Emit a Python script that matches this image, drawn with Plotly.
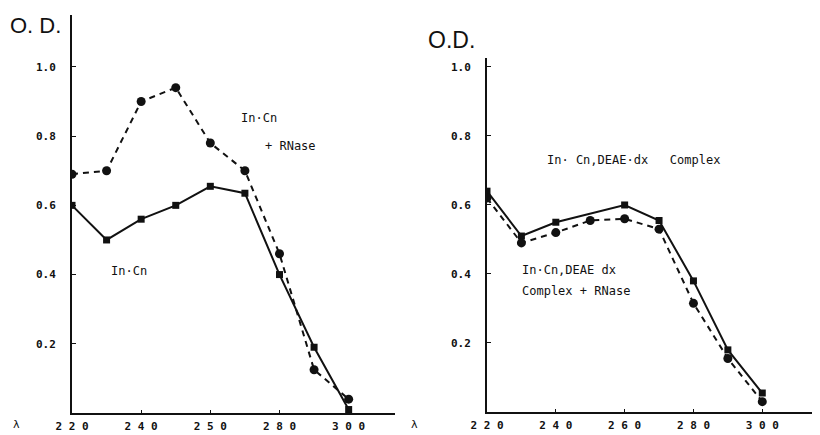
import plotly.graph_objects as go

# Wavelengths (nm)
wavelength = [220, 230, 240, 250, 260, 270, 280, 290, 300]

# Left panel
left_incn = [0.60, 0.50, 0.56, 0.60, 0.655, 0.635, 0.40, 0.19, 0.01]
left_incn_rnase = [0.69, 0.70, 0.90, 0.94, 0.78, 0.70, 0.46, 0.125, 0.04]

# Right panel
right_complex = [0.64, 0.51, 0.55, None, 0.60, 0.555, 0.38, 0.18, 0.055]
right_complex_rnase = [0.62, 0.49, 0.52, 0.555, 0.56, 0.53, 0.315, 0.155, 0.03]

x_tickvals = [220, 240, 260, 280, 300]
left_ticktext = ["2 2 0", "2 4 0", "2 5 0", "2 8 0", "3 0 0"]
right_ticktext = ["2 2 0", "2 4 0", "2 6 0", "2 8 0", "3 0 0"]
y_tickvals = [0.2, 0.4, 0.6, 0.8, 1.0]
y_ticktext = ["0.2", "0.4", "0.6", "0.8", "1.0"]

W, H = 820, 435
OFF = 8  # page body margin offset
BLACK = "#111111"

fig = go.Figure()

def add_series(x, y, xa, ya, dash, symbol, size):
    fig.add_trace(go.Scatter(
        x=x, y=y, xaxis=xa, yaxis=ya, mode="lines+markers",
        connectgaps=True,
        line=dict(color=BLACK, width=2, dash=dash),
        marker=dict(symbol=symbol, size=size, color=BLACK),
        showlegend=False, hoverinfo="x+y"))

add_series(wavelength, left_incn, "x", "y", "solid", "square", 7)
add_series(wavelength, left_incn_rnase, "x", "y", "6px,5px", "circle", 9)
add_series(wavelength, right_complex, "x2", "y2", "solid", "square", 7)
add_series(wavelength, right_complex_rnase, "x2", "y2", "6px,5px", "circle", 9)

def px_x(p):
    return (p - OFF) / W

def px_y(p):
    return (H - (p - OFF)) / H

def bold(lst):
    return ["<b>%s</b>" % t for t in lst]

tickfont = dict(family="DejaVu Sans Mono", size=11, color=BLACK)

xcommon = dict(showline=True, linecolor=BLACK, linewidth=2, showgrid=False,
               zeroline=False, ticks="inside", ticklen=3, tickcolor=BLACK,
               tickvals=x_tickvals, tickfont=tickfont, ticklabelstandoff=2,
               automargin=False)
ycommon = dict(showline=True, linecolor=BLACK, linewidth=2, showgrid=False,
               zeroline=False, ticks="inside", ticklen=4, tickcolor=BLACK,
               tickvals=y_tickvals, ticktext=bold(y_ticktext), tickfont=tickfont,
               ticklabelstandoff=12, automargin=False)

fig.update_layout(
    width=W, height=H,
    margin=dict(l=0, r=0, t=0, b=0, autoexpand=False),
    paper_bgcolor="white", plot_bgcolor="white",
    xaxis=dict(domain=[px_x(72), px_x(395)], range=[220, 313.4], anchor="y",
               ticktext=bold(left_ticktext), **xcommon),
    yaxis=dict(domain=[px_y(413), px_y(15)], range=[0, 1.15], anchor="x", **ycommon),
    xaxis2=dict(domain=[px_x(487), 1.0], range=[220, 319.1], anchor="y2",
                ticktext=bold(right_ticktext), **xcommon),
    yaxis2=dict(domain=[px_y(412), px_y(58)], range=[0, 1.026], anchor="x2", **ycommon),
)

def note(x, y, text, size=12, family="DejaVu Sans Mono", xanchor="left"):
    fig.add_annotation(x=px_x(x), y=px_y(y), xref="paper", yref="paper",
                       text=text, showarrow=False, xanchor=xanchor, yanchor="middle",
                       font=dict(family=family, size=size, color=BLACK))

note(8, 26, "O. D.", size=22, family="Liberation Sans")
note(426, 40, "O.D.", size=23, family="Liberation Sans")
note(11, 424, "λ", size=11)
note(409, 424, "λ", size=11)

note(239, 118, "In·Cn")
note(263, 146, "+ RNase")
note(109, 271, "In·Cn")

note(545, 160, "In· Cn,DEAE·dx&nbsp;&nbsp;&nbsp;Complex")
note(520, 270, "In·Cn,DEAE dx")
note(520, 291, "Complex + RNase")

fig.write_html("out.html")
